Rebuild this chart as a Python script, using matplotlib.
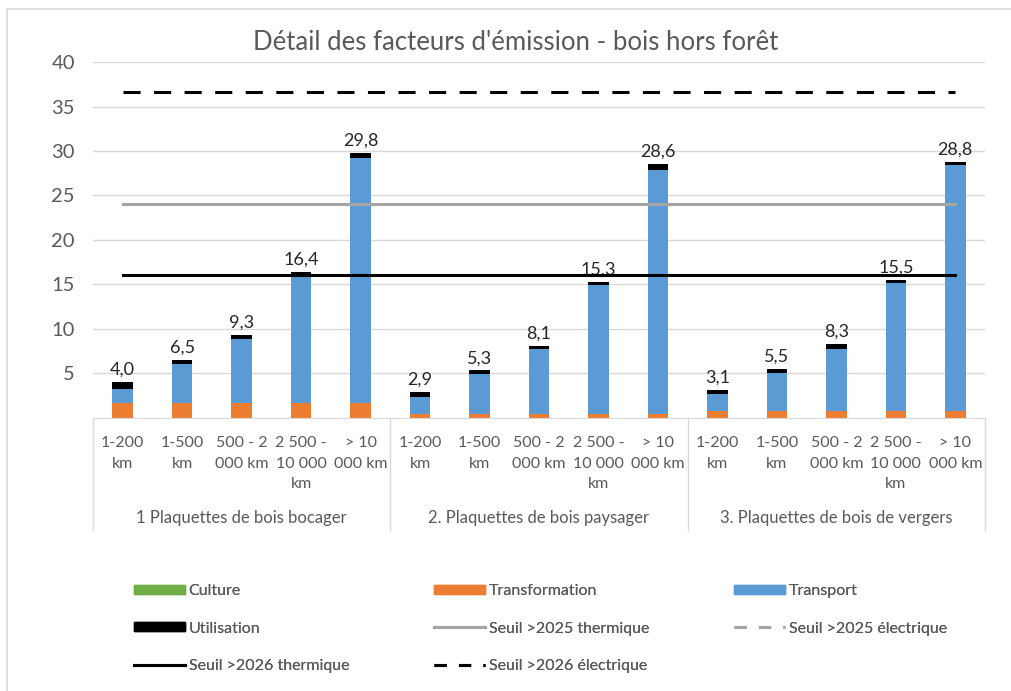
import numpy as np
import matplotlib.pyplot as plt
from matplotlib.lines import Line2D
from matplotlib.patches import Patch, Rectangle

plt.rcParams["font.family"] = ["Lato", "DejaVu Sans"]

# --- data -------------------------------------------------------------
groups = [
    "1 Plaquettes de bois bocager",
    "2. Plaquettes de bois paysager",
    "3. Plaquettes de bois de vergers",
]
distances = ["1-200\nkm", "1-500\nkm", "500 - 2\n000 km", "2 500 -\n10 000\nkm", "> 10\n000 km"]

culture = [0.0] * 15
transformation = [1.6, 1.6, 1.6, 1.6, 1.6,
                  0.4, 0.4, 0.4, 0.4, 0.4,
                  0.7, 0.7, 0.7, 0.7, 0.7]
transport = [1.6, 4.4, 7.2, 14.3, 27.6,
             1.9, 4.5, 7.3, 14.5, 27.5,
             2.0, 4.3, 7.0, 14.4, 27.7]
utilisation = [0.8, 0.5, 0.5, 0.5, 0.6,
               0.6, 0.4, 0.4, 0.4, 0.7,
               0.4, 0.5, 0.6, 0.4, 0.4]

seuil_2025_thermique = 24.0
seuil_2026_thermique = 16.0
seuil_2026_electrique = 36.7

C_GREEN = "#70AD47"
C_ORANGE = "#ED7D31"
C_BLUE = "#5B9BD5"
C_GRAY = "#A5A5A5"
TXT = "#595959"

W, H = 1012, 691
fig = plt.figure(figsize=(W / 100, H / 100), dpi=100)

# chart frame (light grey border)
fig.patches.append(Rectangle((7 / W, -0.05), 1.1, 1 - 9 / H + 0.05, transform=fig.transFigure,
                             fill=False, edgecolor="#D9D9D9", linewidth=1.2))

ax_top, ax_bot = 62.3, 417.5
ax = fig.add_axes([93 / W, (H - ax_bot) / H, 892 / W, (ax_bot - ax_top) / H])

x = np.arange(15)
culture = np.array(culture)
transformation = np.array(transformation)
transport = np.array(transport)
utilisation = np.array(utilisation)
total = culture + transformation + transport + utilisation

bw = 0.345
ax.bar(x, culture, bw, color=C_GREEN, zorder=2)
b = culture
ax.bar(x, transformation, bw, bottom=b, color=C_ORANGE, zorder=2)
b = b + transformation
ax.bar(x, transport, bw, bottom=b, color=C_BLUE, zorder=2)
b = b + transport
ax.bar(x, utilisation, bw, bottom=b, color="black", zorder=2)

for xi, t in zip(x, total):
    ax.annotate(f"{t:.1f}".replace(".", ","), (xi, t), xytext=(0, 3), textcoords="offset points",
                ha="center", va="bottom", fontsize=13, color="#262626", zorder=3)

# threshold lines drawn across the categories
ax.plot(x, np.full(15, seuil_2025_thermique), color=C_GRAY, lw=2.2, zorder=4)
ax.plot(x, np.full(15, seuil_2026_thermique), color="black", lw=2.2, zorder=4)
ax.plot(x, np.full(15, seuil_2026_electrique), color="black", lw=2.2,
        linestyle=(0, (5.6, 4.4)), zorder=4)

ax.set_xlim(-0.5, 14.5)
ax.set_ylim(0, 40)
ax.set_yticks(np.arange(5, 41, 5))
ax.yaxis.grid(True, color="#D9D9D9", lw=1)
ax.set_axisbelow(True)
ax.tick_params(axis="y", length=0, pad=13, labelsize=14.5, labelcolor=TXT)
ax.set_xticks([])
for s in ["top", "right", "left"]:
    ax.spines[s].set_visible(False)
ax.spines["bottom"].set_color("#D9D9D9")

# two-level category axis
tr = ax.get_xaxis_transform()
def fy(p):
    return (ax_bot - p) / (ax_bot - ax_top)

for gi in range(3):
    for di, lab in enumerate(distances):
        ax.text(gi * 5 + di, fy(436), lab, transform=tr, ha="center", va="top",
                fontsize=11.5, color=TXT, linespacing=1.6)
    ax.text(gi * 5 + 2, fy(518), groups[gi], transform=tr, ha="center", va="center",
            fontsize=12, color=TXT)
for xs in [-0.5, 4.5, 9.5, 14.5]:
    ax.plot([xs, xs], [0, fy(530)], transform=tr, color="#D9D9D9", lw=1, clip_on=False)

fig.text(516 / W, 1 - 42 / H, "Détail des facteurs d'émission - bois hors forêt",
         ha="center", va="center", fontsize=18.5, color=TXT)

# legend, three columns
cols = [
    [(Patch(color=C_GREEN), "Culture"),
     (Patch(color="black"), "Utilisation"),
     (Line2D([], [], color="black", lw=2.2), "Seuil >2026 thermique")],
    [(Patch(color=C_ORANGE), "Transformation"),
     (Line2D([], [], color=C_GRAY, lw=2.2), "Seuil >2025 thermique"),
     (Line2D([], [], color="black", lw=2.2, linestyle=(0, (4, 4))), "Seuil >2026 électrique")],
    [(Patch(color=C_BLUE), "Transport"),
     (Line2D([], [], color=C_GRAY, lw=2.2, linestyle=(0, (4, 4))), "Seuil >2025 électrique")],
]
for ci, col in enumerate(cols):
    leg = fig.legend([h for h, _ in col], [l for _, l in col], loc="upper left",
                     bbox_to_anchor=((120 + 300 * ci) / W, 1 - 570 / H), frameon=False,
                     fontsize=11.5, handlelength=3.2, handleheight=0.5, handletextpad=0.2,
                     labelspacing=1.45, labelcolor=TXT)
    fig.add_artist(leg)

fig.savefig("out.png", dpi=100)
